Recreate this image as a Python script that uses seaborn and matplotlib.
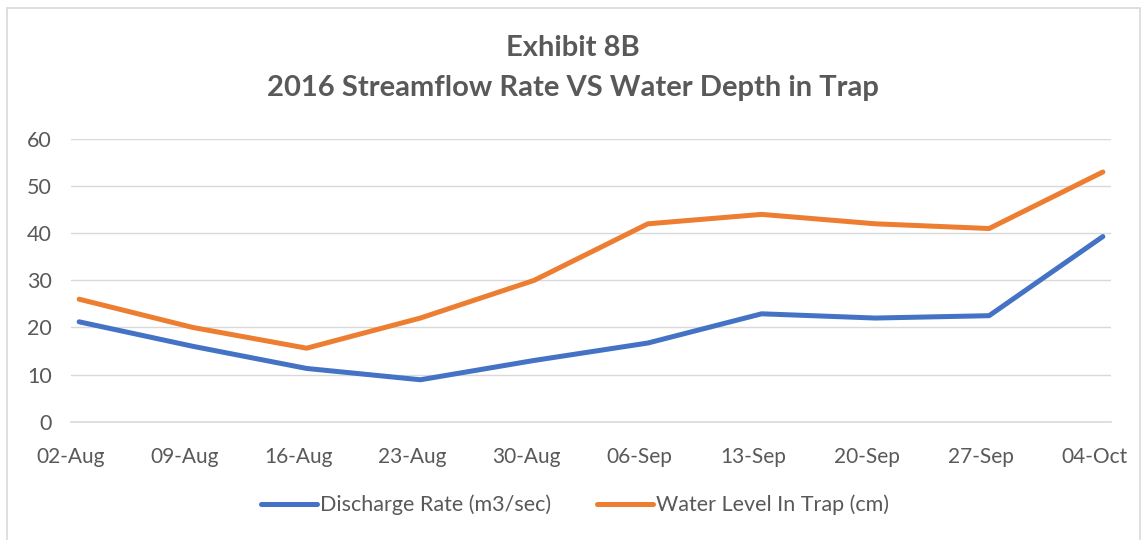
import matplotlib
matplotlib.use("Agg")

import numpy as np
import pandas as pd
import matplotlib.pyplot as plt
import matplotlib.patches as mpatches
import seaborn as sns

# values
dates = ['2016-08-02', '2016-08-09', '2016-08-16', '2016-08-23', '2016-08-30',
         '2016-09-06', '2016-09-13', '2016-09-20', '2016-09-27', '2016-10-04']
discharge = [21.2, 16.0, 11.3, 8.9, 13.0, 16.7, 22.9, 22.0, 22.5, 39.3]
water_level = [26.0, 20.0, 15.6, 22.0, 30.0, 42.0, 44.0, 42.0, 41.0, 53.0]
tick_labels = ['02-Aug', '09-Aug', '16-Aug', '23-Aug', '30-Aug',
               '06-Sep', '13-Sep', '20-Sep', '27-Sep', '04-Oct']
series_names = ['Discharge Rate (m3/sec)', 'Water Level In Trap (cm)']
colors = ['#4472C4', '#ED7D31']

sns.set_style("white")
plt.rcParams['font.family'] = ['Lato', 'DejaVu Sans']

d = pd.to_datetime(dates)
days = (d - d[0]).days.values
# excel date axis puts each point in the middle of its day
x_pos = days + 0.5

df = pd.DataFrame({
    'x': np.concatenate([x_pos, x_pos]),
    'value': discharge + water_level,
    'series': [series_names[0]] * len(dates) + [series_names[1]] * len(dates),
})

fig = plt.figure(figsize=(11.43, 5.4), dpi=100)
ax = fig.add_axes([71 / 1143, (540 - 421.7) / 540, 1040 / 1143, 282.7 / 540])

sns.lineplot(data=df, x='x', y='value', hue='series', palette=colors,
             linewidth=3.6, ax=ax, legend=False,
             solid_capstyle='round', solid_joinstyle='round')

ax.set_xlim(0, days[-1] + 1)
ax.set_ylim(0, 60)
ax.set_yticks(range(0, 61, 10))
ax.set_xticks(days)
ax.set_xticklabels(tick_labels)
ax.set_xlabel('')
ax.set_ylabel('')

ax.yaxis.grid(True, color='#D9D9D9', linewidth=1.0)
ax.set_axisbelow(True)
for s in ['top', 'right', 'left']:
    ax.spines[s].set_visible(False)
ax.spines['bottom'].set_color('#D9D9D9')
ax.spines['bottom'].set_linewidth(1.2)

ax.tick_params(axis='x', colors='#D9D9D9', length=6, width=1.2, direction='out',
               labelcolor='#595959', labelsize=15, pad=12)
ax.tick_params(axis='y', length=0, labelcolor='#595959', labelsize=15.5, pad=14)

fig.text(573 / 1143, 1 - 48 / 540, 'Exhibit 8B', ha='center', va='center',
         fontsize=21, fontweight='bold', color='#595959')
fig.text(573 / 1143, 1 - 88 / 540, '2016 Streamflow Rate VS Water Depth in Trap',
         ha='center', va='center', fontsize=21, fontweight='bold', color='#595959')

handles = [plt.Line2D([], [], color=c, linewidth=3.6, solid_capstyle='round') for c in colors]
fig.legend(handles, series_names, loc='center', bbox_to_anchor=(575 / 1143, 1 - 505 / 540),
           ncol=2, frameon=False, fontsize=15.5, handlelength=2.6, handletextpad=0.15,
           columnspacing=2.1, labelcolor='#595959')

# outer chart border (bottom edge falls outside the image)
border = mpatches.Rectangle((6.5 / 1143, -0.05), (1140 - 6.5) / 1143, 1.05 - 8 / 540,
                            transform=fig.transFigure, fill=False,
                            edgecolor='#D9D9D9', linewidth=1.2)
fig.patches.append(border)

fig.savefig('out.png', dpi=100)
plt.close(fig)
